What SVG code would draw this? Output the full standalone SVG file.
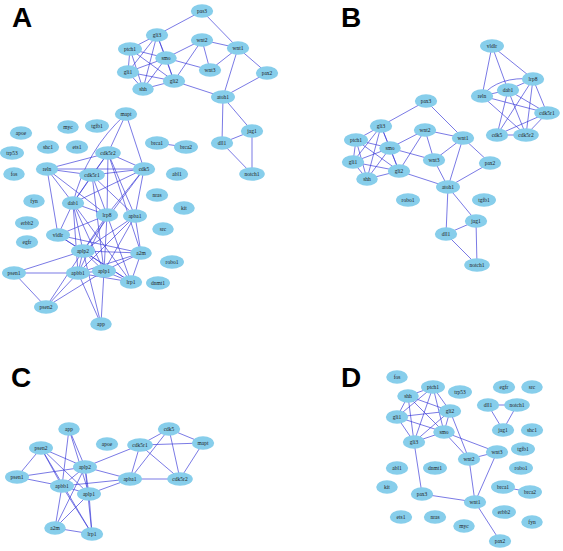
<svg xmlns="http://www.w3.org/2000/svg" width="563" height="551" viewBox="0 0 563 551">
<style>
.bg{fill:#fff}
.n ellipse{fill:#87CEEB}
.n text{font-family:"Liberation Serif",serif;font-size:5.5px;fill:#222;text-anchor:middle;dominant-baseline:central}
.e line,.e path{stroke:#3a3ad8;stroke-width:0.8;fill:none;stroke-opacity:0.85}
.lbl{font-family:"Liberation Sans",Arial,sans-serif;font-weight:bold;font-size:28px;fill:#000}
</style>
<rect class="bg" width="563" height="551"/>
<text class="lbl" x="12" y="27">A</text>
<text class="lbl" x="341" y="27">B</text>
<text class="lbl" x="11" y="387">C</text>
<text class="lbl" x="341" y="387">D</text>

<g id="connectors" class="e">
<!-- Panel A -->
<line x1="157" y1="35" x2="130" y2="49"/><line x1="157" y1="35" x2="166" y2="58"/><line x1="157" y1="35" x2="128" y2="72"/><line x1="157" y1="35" x2="174" y2="81"/><line x1="157" y1="35" x2="143" y2="89"/>
<line x1="130" y1="49" x2="166" y2="58"/><line x1="130" y1="49" x2="128" y2="72"/><line x1="130" y1="49" x2="174" y2="81"/><line x1="130" y1="49" x2="143" y2="89"/>
<line x1="166" y1="58" x2="128" y2="72"/><line x1="166" y1="58" x2="174" y2="81"/><line x1="166" y1="58" x2="143" y2="89"/>
<line x1="128" y1="72" x2="174" y2="81"/><line x1="128" y1="72" x2="143" y2="89"/><line x1="174" y1="81" x2="143" y2="89"/>
<line x1="202" y1="11" x2="157" y2="35"/><line x1="202" y1="11" x2="238" y2="48"/>
<line x1="202" y1="40" x2="238" y2="48"/><line x1="202" y1="40" x2="166" y2="58"/><line x1="202" y1="40" x2="210" y2="70"/><line x1="202" y1="40" x2="174" y2="81"/>
<line x1="238" y1="48" x2="210" y2="70"/><line x1="238" y1="48" x2="267" y2="73"/><line x1="238" y1="48" x2="223" y2="97"/>
<line x1="166" y1="58" x2="210" y2="70"/><line x1="174" y1="81" x2="223" y2="97"/><line x1="267" y1="73" x2="223" y2="97"/>
<line x1="223" y1="97" x2="222" y2="143"/><line x1="223" y1="97" x2="252" y2="131"/><line x1="252" y1="131" x2="222" y2="143"/><line x1="252" y1="131" x2="252" y2="174"/><line x1="222" y1="143" x2="252" y2="174"/>
<line x1="157" y1="143" x2="186" y2="147"/>
<line x1="126" y1="114" x2="108" y2="153"/><line x1="126" y1="114" x2="144" y2="169"/><path d="M126,114 Q86,150 73,203"/>
<line x1="47" y1="169" x2="108" y2="153"/><line x1="47" y1="169" x2="92" y2="175"/><line x1="47" y1="169" x2="144" y2="169"/><line x1="47" y1="169" x2="73" y2="203"/><line x1="47" y1="169" x2="58" y2="235"/><line x1="47" y1="169" x2="107" y2="215"/>
<line x1="108" y1="153" x2="92" y2="175"/><line x1="108" y1="153" x2="144" y2="169"/><line x1="108" y1="153" x2="73" y2="203"/><line x1="108" y1="153" x2="107" y2="215"/><line x1="108" y1="153" x2="135" y2="216"/><line x1="108" y1="153" x2="141" y2="253"/>
<line x1="92" y1="175" x2="144" y2="169"/><line x1="92" y1="175" x2="73" y2="203"/><line x1="92" y1="175" x2="107" y2="215"/><line x1="92" y1="175" x2="135" y2="216"/><line x1="92" y1="175" x2="104" y2="271"/>
<line x1="144" y1="169" x2="73" y2="203"/><line x1="144" y1="169" x2="107" y2="215"/><line x1="144" y1="169" x2="135" y2="216"/><line x1="144" y1="169" x2="83" y2="251"/>
<line x1="73" y1="203" x2="58" y2="235"/><line x1="73" y1="203" x2="107" y2="215"/><line x1="73" y1="203" x2="83" y2="251"/><line x1="73" y1="203" x2="78" y2="273"/><line x1="73" y1="203" x2="104" y2="271"/><line x1="73" y1="203" x2="131" y2="282"/>
<line x1="107" y1="215" x2="58" y2="235"/><line x1="107" y1="215" x2="83" y2="251"/><line x1="107" y1="215" x2="78" y2="273"/><line x1="107" y1="215" x2="104" y2="271"/><line x1="107" y1="215" x2="131" y2="282"/>
<line x1="135" y1="216" x2="83" y2="251"/><line x1="135" y1="216" x2="78" y2="273"/><line x1="135" y1="216" x2="104" y2="271"/><line x1="135" y1="216" x2="141" y2="253"/>
<line x1="58" y1="235" x2="141" y2="253"/><line x1="58" y1="235" x2="131" y2="282"/><line x1="58" y1="235" x2="83" y2="251"/>
<line x1="83" y1="251" x2="141" y2="253"/><line x1="83" y1="251" x2="14" y2="273"/><line x1="83" y1="251" x2="46" y2="307"/><line x1="83" y1="251" x2="78" y2="273"/><line x1="83" y1="251" x2="104" y2="271"/><line x1="83" y1="251" x2="131" y2="282"/><line x1="83" y1="251" x2="101" y2="324"/>
<line x1="14" y1="273" x2="46" y2="307"/><line x1="14" y1="273" x2="78" y2="273"/>
<line x1="78" y1="273" x2="46" y2="307"/><line x1="78" y1="273" x2="101" y2="324"/><line x1="78" y1="273" x2="141" y2="253"/><line x1="78" y1="273" x2="131" y2="282"/><line x1="78" y1="273" x2="104" y2="271"/>
<line x1="104" y1="271" x2="46" y2="307"/><line x1="104" y1="271" x2="101" y2="324"/><line x1="104" y1="271" x2="141" y2="253"/><line x1="104" y1="271" x2="131" y2="282"/>
<line x1="141" y1="253" x2="131" y2="282"/>
<!-- Panel B -->
<line x1="381" y1="126" x2="356" y2="140"/><line x1="381" y1="126" x2="390" y2="148"/><line x1="381" y1="126" x2="353" y2="162"/><line x1="381" y1="126" x2="399" y2="171"/><line x1="381" y1="126" x2="367" y2="179"/>
<line x1="356" y1="140" x2="390" y2="148"/><line x1="356" y1="140" x2="353" y2="162"/><line x1="356" y1="140" x2="399" y2="171"/><line x1="356" y1="140" x2="367" y2="179"/>
<line x1="390" y1="148" x2="353" y2="162"/><line x1="390" y1="148" x2="399" y2="171"/><line x1="390" y1="148" x2="367" y2="179"/>
<line x1="353" y1="162" x2="399" y2="171"/><line x1="353" y1="162" x2="367" y2="179"/><line x1="399" y1="171" x2="367" y2="179"/>
<line x1="426" y1="101" x2="381" y2="126"/><line x1="426" y1="101" x2="463" y2="138"/>
<line x1="425" y1="130" x2="463" y2="138"/><line x1="425" y1="130" x2="390" y2="148"/><line x1="425" y1="130" x2="434" y2="160"/><line x1="425" y1="130" x2="399" y2="171"/>
<line x1="463" y1="138" x2="434" y2="160"/><line x1="463" y1="138" x2="448" y2="187"/><line x1="463" y1="138" x2="490" y2="163"/>
<line x1="390" y1="148" x2="434" y2="160"/><line x1="399" y1="171" x2="448" y2="187"/><line x1="490" y1="163" x2="448" y2="187"/><line x1="434" y1="160" x2="448" y2="187"/>
<line x1="448" y1="187" x2="446" y2="234"/><line x1="448" y1="187" x2="476" y2="221"/><line x1="476" y1="221" x2="446" y2="234"/><line x1="476" y1="221" x2="477" y2="265"/><line x1="446" y1="234" x2="477" y2="265"/>
<line x1="492" y1="46" x2="482" y2="96"/><line x1="492" y1="46" x2="508" y2="90"/><line x1="492" y1="46" x2="533" y2="79"/>
<path d="M533,79 Q498,76 482,96"/>
<line x1="533" y1="79" x2="508" y2="90"/><line x1="533" y1="79" x2="497" y2="135"/><line x1="533" y1="79" x2="526" y2="135"/><line x1="533" y1="79" x2="547" y2="113"/>
<line x1="482" y1="96" x2="508" y2="90"/><line x1="482" y1="96" x2="547" y2="113"/><line x1="482" y1="96" x2="526" y2="135"/>
<line x1="508" y1="90" x2="497" y2="135"/><line x1="508" y1="90" x2="547" y2="113"/><line x1="508" y1="90" x2="526" y2="135"/>
<line x1="497" y1="135" x2="547" y2="113"/><line x1="497" y1="135" x2="526" y2="135"/><line x1="526" y1="135" x2="547" y2="113"/>
<!-- Panel C -->
<line x1="69" y1="429" x2="85" y2="467"/><line x1="69" y1="429" x2="62" y2="486"/><line x1="69" y1="429" x2="89" y2="494"/>
<line x1="41" y1="448" x2="17" y2="477"/><line x1="41" y1="448" x2="85" y2="467"/><line x1="41" y1="448" x2="62" y2="486"/><line x1="41" y1="448" x2="89" y2="494"/><line x1="41" y1="448" x2="92" y2="534"/>
<line x1="17" y1="477" x2="85" y2="467"/><line x1="17" y1="477" x2="62" y2="486"/>
<line x1="85" y1="467" x2="140" y2="445"/><line x1="85" y1="467" x2="130" y2="479"/><line x1="85" y1="467" x2="62" y2="486"/><line x1="85" y1="467" x2="89" y2="494"/><line x1="85" y1="467" x2="55" y2="528"/><line x1="85" y1="467" x2="92" y2="534"/>
<line x1="62" y1="486" x2="89" y2="494"/><line x1="62" y1="486" x2="92" y2="534"/><line x1="62" y1="486" x2="55" y2="528"/><line x1="62" y1="486" x2="130" y2="479"/>
<line x1="89" y1="494" x2="130" y2="479"/><line x1="89" y1="494" x2="55" y2="528"/><line x1="89" y1="494" x2="92" y2="534"/>
<line x1="55" y1="528" x2="92" y2="534"/>
<line x1="130" y1="479" x2="180" y2="479"/><line x1="130" y1="479" x2="140" y2="445"/><line x1="130" y1="479" x2="169" y2="429"/>
<line x1="140" y1="445" x2="169" y2="429"/><line x1="140" y1="445" x2="203" y2="443"/><line x1="140" y1="445" x2="180" y2="479"/>
<line x1="169" y1="429" x2="203" y2="443"/><line x1="169" y1="429" x2="180" y2="479"/><line x1="203" y1="443" x2="180" y2="479"/>
<!-- Panel D -->
<line x1="408" y1="396" x2="433" y2="387"/><line x1="408" y1="396" x2="397" y2="417"/><line x1="408" y1="396" x2="450" y2="411"/><line x1="408" y1="396" x2="444" y2="432"/><line x1="408" y1="396" x2="414" y2="442"/>
<line x1="433" y1="387" x2="397" y2="417"/><line x1="433" y1="387" x2="450" y2="411"/><line x1="433" y1="387" x2="444" y2="432"/><line x1="433" y1="387" x2="414" y2="442"/>
<line x1="397" y1="417" x2="450" y2="411"/><line x1="397" y1="417" x2="444" y2="432"/><line x1="397" y1="417" x2="414" y2="442"/>
<line x1="450" y1="411" x2="444" y2="432"/><line x1="450" y1="411" x2="414" y2="442"/><line x1="444" y1="432" x2="414" y2="442"/>
<line x1="414" y1="442" x2="422" y2="494"/><line x1="444" y1="432" x2="469" y2="459"/><line x1="444" y1="432" x2="497" y2="452"/><line x1="450" y1="411" x2="469" y2="459"/>
<line x1="469" y1="459" x2="497" y2="452"/><line x1="469" y1="459" x2="475" y2="502"/><line x1="497" y1="452" x2="475" y2="502"/><line x1="422" y1="494" x2="475" y2="502"/><line x1="475" y1="502" x2="500" y2="541"/>
<line x1="488" y1="405" x2="517" y2="405"/><line x1="488" y1="405" x2="503" y2="430"/><line x1="517" y1="405" x2="503" y2="430"/>
<line x1="503" y1="487" x2="530" y2="492"/>
</g>

<!-- Panel A nodes -->
<g id="A-pas3" class="n"><ellipse cx="202" cy="11" rx="11.2" ry="6.8"/><text x="202" y="11">pas3</text></g>
<g id="A-gli3" class="n"><ellipse cx="157" cy="35" rx="11.2" ry="6.8"/><text x="157" y="35">gli3</text></g>
<g id="A-wnt2" class="n"><ellipse cx="202" cy="40" rx="11.2" ry="6.8"/><text x="202" y="40">wnt2</text></g>
<g id="A-wnt1" class="n"><ellipse cx="238" cy="48" rx="11.2" ry="6.8"/><text x="238" y="48">wnt1</text></g>
<g id="A-ptch1" class="n"><ellipse cx="130" cy="49" rx="12" ry="6.8"/><text x="130" y="49">ptch1</text></g>
<g id="A-smo" class="n"><ellipse cx="166" cy="58" rx="10.8" ry="6.8"/><text x="166" y="58">smo</text></g>
<g id="A-wnt3" class="n"><ellipse cx="210" cy="70" rx="11.2" ry="6.8"/><text x="210" y="70">wnt3</text></g>
<g id="A-pax2" class="n"><ellipse cx="267" cy="73" rx="11.2" ry="6.8"/><text x="267" y="73">pax2</text></g>
<g id="A-gli1" class="n"><ellipse cx="128" cy="72" rx="11.2" ry="6.8"/><text x="128" y="72">gli1</text></g>
<g id="A-gli2" class="n"><ellipse cx="174" cy="81" rx="11.2" ry="6.8"/><text x="174" y="81">gli2</text></g>
<g id="A-shh" class="n"><ellipse cx="143" cy="89" rx="10.8" ry="6.8"/><text x="143" y="89">shh</text></g>
<g id="A-atoh1" class="n"><ellipse cx="223" cy="97" rx="12" ry="6.8"/><text x="223" y="97">atoh1</text></g>
<g id="A-jag1" class="n"><ellipse cx="252" cy="131" rx="11.2" ry="6.8"/><text x="252" y="131">jag1</text></g>
<g id="A-dll1" class="n"><ellipse cx="222" cy="143" rx="11.2" ry="6.8"/><text x="222" y="143">dll1</text></g>
<g id="A-notch1" class="n"><ellipse cx="252" cy="174" rx="12.8" ry="6.8"/><text x="252" y="174">notch1</text></g>
<g id="A-mapt" class="n"><ellipse cx="126" cy="114" rx="11.2" ry="6.8"/><text x="126" y="114">mapt</text></g>
<g id="A-myc" class="n"><ellipse cx="68" cy="127" rx="10.8" ry="6.8"/><text x="68" y="127">myc</text></g>
<g id="A-tgfb1" class="n"><ellipse cx="97" cy="126" rx="12" ry="6.8"/><text x="97" y="126">tgfb1</text></g>
<g id="A-apoe" class="n"><ellipse cx="21" cy="133" rx="11.2" ry="6.8"/><text x="21" y="133">apoe</text></g>
<g id="A-shc1" class="n"><ellipse cx="48" cy="147" rx="11.2" ry="6.8"/><text x="48" y="147">shc1</text></g>
<g id="A-ets1" class="n"><ellipse cx="77" cy="147" rx="11.2" ry="6.8"/><text x="77" y="147">ets1</text></g>
<g id="A-brca1" class="n"><ellipse cx="157" cy="143" rx="12" ry="6.8"/><text x="157" y="143">brca1</text></g>
<g id="A-brca2" class="n"><ellipse cx="186" cy="147" rx="12" ry="6.8"/><text x="186" y="147">brca2</text></g>
<g id="A-cdk5r2" class="n"><ellipse cx="108" cy="153" rx="12.8" ry="6.8"/><text x="108" y="153">cdk5r2</text></g>
<g id="A-trp53" class="n"><ellipse cx="12" cy="153" rx="12" ry="6.8"/><text x="12" y="153">trp53</text></g>
<g id="A-reln" class="n"><ellipse cx="47" cy="169" rx="11.2" ry="6.8"/><text x="47" y="169">reln</text></g>
<g id="A-cdk5r1" class="n"><ellipse cx="92" cy="175" rx="12.8" ry="6.8"/><text x="92" y="175">cdk5r1</text></g>
<g id="A-cdk5" class="n"><ellipse cx="144" cy="169" rx="11.2" ry="6.8"/><text x="144" y="169">cdk5</text></g>
<g id="A-fos" class="n"><ellipse cx="14" cy="174" rx="10.8" ry="6.8"/><text x="14" y="174">fos</text></g>
<g id="A-abl1" class="n"><ellipse cx="177" cy="174" rx="11.2" ry="6.8"/><text x="177" y="174">abl1</text></g>
<g id="A-nras" class="n"><ellipse cx="157" cy="195" rx="11.2" ry="6.8"/><text x="157" y="195">nras</text></g>
<g id="A-fyn" class="n"><ellipse cx="34" cy="201" rx="10.8" ry="6.8"/><text x="34" y="201">fyn</text></g>
<g id="A-dab1" class="n"><ellipse cx="73" cy="203" rx="11.2" ry="6.8"/><text x="73" y="203">dab1</text></g>
<g id="A-kit" class="n"><ellipse cx="184" cy="208" rx="10.8" ry="6.8"/><text x="184" y="208">kit</text></g>
<g id="A-lrp8" class="n"><ellipse cx="107" cy="215" rx="11.2" ry="6.8"/><text x="107" y="215">lrp8</text></g>
<g id="A-apba1" class="n"><ellipse cx="135" cy="216" rx="12" ry="6.8"/><text x="135" y="216">apba1</text></g>
<g id="A-erbb2" class="n"><ellipse cx="27" cy="223" rx="12" ry="6.8"/><text x="27" y="223">erbb2</text></g>
<g id="A-src" class="n"><ellipse cx="163" cy="229" rx="10.8" ry="6.8"/><text x="163" y="229">src</text></g>
<g id="A-vldlr" class="n"><ellipse cx="58" cy="235" rx="12" ry="6.8"/><text x="58" y="235">vldlr</text></g>
<g id="A-egfr" class="n"><ellipse cx="27" cy="242" rx="11.2" ry="6.8"/><text x="27" y="242">egfr</text></g>
<g id="A-aplp2" class="n"><ellipse cx="83" cy="251" rx="12" ry="6.8"/><text x="83" y="251">aplp2</text></g>
<g id="A-a2m" class="n"><ellipse cx="141" cy="253" rx="10.8" ry="6.8"/><text x="141" y="253">a2m</text></g>
<g id="A-robo1" class="n"><ellipse cx="172" cy="262" rx="12" ry="6.8"/><text x="172" y="262">robo1</text></g>
<g id="A-psen1" class="n"><ellipse cx="14" cy="273" rx="12" ry="6.8"/><text x="14" y="273">psen1</text></g>
<g id="A-apbb1" class="n"><ellipse cx="78" cy="273" rx="12" ry="6.8"/><text x="78" y="273">apbb1</text></g>
<g id="A-aplp1" class="n"><ellipse cx="104" cy="271" rx="12" ry="6.8"/><text x="104" y="271">aplp1</text></g>
<g id="A-lrp1" class="n"><ellipse cx="131" cy="282" rx="11.2" ry="6.8"/><text x="131" y="282">lrp1</text></g>
<g id="A-dnmt1" class="n"><ellipse cx="158" cy="283" rx="12" ry="6.8"/><text x="158" y="283">dnmt1</text></g>
<g id="A-psen2" class="n"><ellipse cx="46" cy="307" rx="12" ry="6.8"/><text x="46" y="307">psen2</text></g>
<g id="A-app" class="n"><ellipse cx="101" cy="324" rx="10.8" ry="6.8"/><text x="101" y="324">app</text></g>

<!-- Panel B nodes -->
<g id="B-vldlr" class="n"><ellipse cx="492" cy="46" rx="12" ry="6.8"/><text x="492" y="46">vldlr</text></g>
<g id="B-lrp8" class="n"><ellipse cx="533" cy="79" rx="11.2" ry="6.8"/><text x="533" y="79">lrp8</text></g>
<g id="B-dab1" class="n"><ellipse cx="508" cy="90" rx="11.2" ry="6.8"/><text x="508" y="90">dab1</text></g>
<g id="B-reln" class="n"><ellipse cx="482" cy="96" rx="11.2" ry="6.8"/><text x="482" y="96">reln</text></g>
<g id="B-pax3" class="n"><ellipse cx="426" cy="101" rx="11.2" ry="6.8"/><text x="426" y="101">pax3</text></g>
<g id="B-cdk5r1" class="n"><ellipse cx="547" cy="113" rx="12.8" ry="6.8"/><text x="547" y="113">cdk5r1</text></g>
<g id="B-gli3" class="n"><ellipse cx="381" cy="126" rx="11.2" ry="6.8"/><text x="381" y="126">gli3</text></g>
<g id="B-wnt2" class="n"><ellipse cx="425" cy="130" rx="11.2" ry="6.8"/><text x="425" y="130">wnt2</text></g>
<g id="B-cdk5" class="n"><ellipse cx="497" cy="135" rx="11.2" ry="6.8"/><text x="497" y="135">cdk5</text></g>
<g id="B-cdk5r2" class="n"><ellipse cx="526" cy="135" rx="12.8" ry="6.8"/><text x="526" y="135">cdk5r2</text></g>
<g id="B-wnt1" class="n"><ellipse cx="463" cy="138" rx="11.2" ry="6.8"/><text x="463" y="138">wnt1</text></g>
<g id="B-ptch1" class="n"><ellipse cx="356" cy="140" rx="12" ry="6.8"/><text x="356" y="140">ptch1</text></g>
<g id="B-smo" class="n"><ellipse cx="390" cy="148" rx="10.8" ry="6.8"/><text x="390" y="148">smo</text></g>
<g id="B-wnt3" class="n"><ellipse cx="434" cy="160" rx="11.2" ry="6.8"/><text x="434" y="160">wnt3</text></g>
<g id="B-gli1" class="n"><ellipse cx="353" cy="162" rx="11.2" ry="6.8"/><text x="353" y="162">gli1</text></g>
<g id="B-pax2" class="n"><ellipse cx="490" cy="163" rx="11.2" ry="6.8"/><text x="490" y="163">pax2</text></g>
<g id="B-gli2" class="n"><ellipse cx="399" cy="171" rx="11.2" ry="6.8"/><text x="399" y="171">gli2</text></g>
<g id="B-shh" class="n"><ellipse cx="367" cy="179" rx="10.8" ry="6.8"/><text x="367" y="179">shh</text></g>
<g id="B-atoh1" class="n"><ellipse cx="448" cy="187" rx="12" ry="6.8"/><text x="448" y="187">atoh1</text></g>
<g id="B-robo1" class="n"><ellipse cx="408" cy="200" rx="12" ry="6.8"/><text x="408" y="200">robo1</text></g>
<g id="B-tgfb1" class="n"><ellipse cx="484" cy="200" rx="12" ry="6.8"/><text x="484" y="200">tgfb1</text></g>
<g id="B-jag1" class="n"><ellipse cx="476" cy="221" rx="11.2" ry="6.8"/><text x="476" y="221">jag1</text></g>
<g id="B-dll1" class="n"><ellipse cx="446" cy="234" rx="11.2" ry="6.8"/><text x="446" y="234">dll1</text></g>
<g id="B-notch1" class="n"><ellipse cx="477" cy="265" rx="12.8" ry="6.8"/><text x="477" y="265">notch1</text></g>

<!-- Panel C nodes -->
<g id="C-app" class="n"><ellipse cx="69" cy="429" rx="10.8" ry="6.8"/><text x="69" y="429">app</text></g>
<g id="C-cdk5" class="n"><ellipse cx="169" cy="429" rx="11.2" ry="6.8"/><text x="169" y="429">cdk5</text></g>
<g id="C-mapt" class="n"><ellipse cx="203" cy="443" rx="11.2" ry="6.8"/><text x="203" y="443">mapt</text></g>
<g id="C-apoe" class="n"><ellipse cx="107" cy="444" rx="11.2" ry="6.8"/><text x="107" y="444">apoe</text></g>
<g id="C-cdk5r1" class="n"><ellipse cx="140" cy="445" rx="12.8" ry="6.8"/><text x="140" y="445">cdk5r1</text></g>
<g id="C-psen2" class="n"><ellipse cx="41" cy="448" rx="12" ry="6.8"/><text x="41" y="448">psen2</text></g>
<g id="C-aplp2" class="n"><ellipse cx="85" cy="467" rx="12" ry="6.8"/><text x="85" y="467">aplp2</text></g>
<g id="C-psen1" class="n"><ellipse cx="17" cy="477" rx="12" ry="6.8"/><text x="17" y="477">psen1</text></g>
<g id="C-apba1" class="n"><ellipse cx="130" cy="479" rx="12" ry="6.8"/><text x="130" y="479">apba1</text></g>
<g id="C-cdk5r2" class="n"><ellipse cx="180" cy="479" rx="12.8" ry="6.8"/><text x="180" y="479">cdk5r2</text></g>
<g id="C-apbb1" class="n"><ellipse cx="62" cy="486" rx="12" ry="6.8"/><text x="62" y="486">apbb1</text></g>
<g id="C-aplp1" class="n"><ellipse cx="89" cy="494" rx="12" ry="6.8"/><text x="89" y="494">aplp1</text></g>
<g id="C-a2m" class="n"><ellipse cx="55" cy="528" rx="10.8" ry="6.8"/><text x="55" y="528">a2m</text></g>
<g id="C-lrp1" class="n"><ellipse cx="92" cy="534" rx="11.2" ry="6.8"/><text x="92" y="534">lrp1</text></g>

<!-- Panel D nodes -->
<g id="D-fos" class="n"><ellipse cx="397" cy="377" rx="10.8" ry="6.8"/><text x="397" y="377">fos</text></g>
<g id="D-ptch1" class="n"><ellipse cx="433" cy="387" rx="12" ry="6.8"/><text x="433" y="387">ptch1</text></g>
<g id="D-trp53" class="n"><ellipse cx="460" cy="392" rx="12" ry="6.8"/><text x="460" y="392">trp53</text></g>
<g id="D-egfr" class="n"><ellipse cx="504" cy="387" rx="11.2" ry="6.8"/><text x="504" y="387">egfr</text></g>
<g id="D-src" class="n"><ellipse cx="532" cy="387" rx="10.8" ry="6.8"/><text x="532" y="387">src</text></g>
<g id="D-shh" class="n"><ellipse cx="408" cy="396" rx="10.8" ry="6.8"/><text x="408" y="396">shh</text></g>
<g id="D-dll1" class="n"><ellipse cx="488" cy="405" rx="11.2" ry="6.8"/><text x="488" y="405">dll1</text></g>
<g id="D-notch1" class="n"><ellipse cx="517" cy="405" rx="12.8" ry="6.8"/><text x="517" y="405">notch1</text></g>
<g id="D-gli2" class="n"><ellipse cx="450" cy="411" rx="11.2" ry="6.8"/><text x="450" y="411">gli2</text></g>
<g id="D-gli1" class="n"><ellipse cx="397" cy="417" rx="11.2" ry="6.8"/><text x="397" y="417">gli1</text></g>
<g id="D-jag1" class="n"><ellipse cx="503" cy="430" rx="11.2" ry="6.8"/><text x="503" y="430">jag1</text></g>
<g id="D-shc1" class="n"><ellipse cx="532" cy="430" rx="11.2" ry="6.8"/><text x="532" y="430">shc1</text></g>
<g id="D-smo" class="n"><ellipse cx="444" cy="432" rx="10.8" ry="6.8"/><text x="444" y="432">smo</text></g>
<g id="D-gli3" class="n"><ellipse cx="414" cy="442" rx="11.2" ry="6.8"/><text x="414" y="442">gli3</text></g>
<g id="D-tgfb1" class="n"><ellipse cx="523" cy="449" rx="12" ry="6.8"/><text x="523" y="449">tgfb1</text></g>
<g id="D-wnt3" class="n"><ellipse cx="497" cy="452" rx="11.2" ry="6.8"/><text x="497" y="452">wnt3</text></g>
<g id="D-wnt2" class="n"><ellipse cx="469" cy="459" rx="11.2" ry="6.8"/><text x="469" y="459">wnt2</text></g>
<g id="D-abl1" class="n"><ellipse cx="397" cy="468" rx="11.2" ry="6.8"/><text x="397" y="468">abl1</text></g>
<g id="D-dnmt1" class="n"><ellipse cx="435" cy="468" rx="12" ry="6.8"/><text x="435" y="468">dnmt1</text></g>
<g id="D-robo1" class="n"><ellipse cx="521" cy="468" rx="12" ry="6.8"/><text x="521" y="468">robo1</text></g>
<g id="D-kit" class="n"><ellipse cx="387" cy="487" rx="10.8" ry="6.8"/><text x="387" y="487">kit</text></g>
<g id="D-brca1" class="n"><ellipse cx="503" cy="487" rx="12" ry="6.8"/><text x="503" y="487">brca1</text></g>
<g id="D-brca2" class="n"><ellipse cx="530" cy="492" rx="12" ry="6.8"/><text x="530" y="492">brca2</text></g>
<g id="D-pax3" class="n"><ellipse cx="422" cy="494" rx="11.2" ry="6.8"/><text x="422" y="494">pax3</text></g>
<g id="D-wnt1" class="n"><ellipse cx="475" cy="502" rx="11.2" ry="6.8"/><text x="475" y="502">wnt1</text></g>
<g id="D-erbb2" class="n"><ellipse cx="504" cy="512" rx="12" ry="6.8"/><text x="504" y="512">erbb2</text></g>
<g id="D-fyn" class="n"><ellipse cx="532" cy="522" rx="10.8" ry="6.8"/><text x="532" y="522">fyn</text></g>
<g id="D-ets1" class="n"><ellipse cx="401" cy="517" rx="11.2" ry="6.8"/><text x="401" y="517">ets1</text></g>
<g id="D-nras" class="n"><ellipse cx="435" cy="517" rx="11.2" ry="6.8"/><text x="435" y="517">nras</text></g>
<g id="D-myc" class="n"><ellipse cx="464" cy="526" rx="10.8" ry="6.8"/><text x="464" y="526">myc</text></g>
<g id="D-pax2" class="n"><ellipse cx="500" cy="541" rx="11.2" ry="6.8"/><text x="500" y="541">pax2</text></g>
</svg>
